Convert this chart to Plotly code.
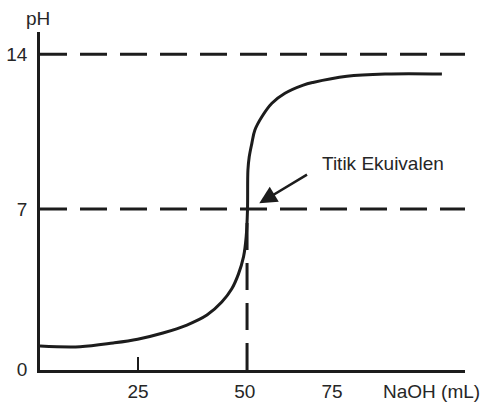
import plotly.graph_objects as go

# Titration curve
naoh_ml = [2.5, 11.7, 19.3, 24.9, 30.7, 36.2, 40.8, 44.2, 46.5, 48.0, 49.2, 49.8,
           50.1, 50.2, 50.5, 51.1, 51.8, 53.4, 55.7, 58.7, 62.9, 65.1, 72.9, 82.0, 94.7]
ph = [0.81, 0.78, 0.95, 1.12, 1.40, 1.76, 2.21, 2.80, 3.40, 4.05, 4.85, 5.75,
      6.96, 8.76, 9.36, 9.97, 10.57, 11.17, 11.78, 12.23, 12.6, 12.72, 13.0, 13.1, 13.1]

x_tick_text = ["25", "50", "75"]
y_tick_text = ["0", "7", "14"]
equivalence_volume = 50
equivalence_ph = 7
max_ph = 14
annotation_text = "Titik Ekuivalen"

X_RANGE = [2.5, 100]
Y_RANGE = [-0.27, 15.0]
INK = "#1c1c1c"
FONT = dict(family="Liberation Sans, Arial, sans-serif", size=19, color="#262626")
DASH = "27px,13px"

fig = go.Figure()

# horizontal dashed lines at pH 14 and pH 7
for level in (max_ph, equivalence_ph):
    fig.add_trace(go.Scatter(x=[X_RANGE[0], X_RANGE[1]], y=[level, level], mode="lines",
                             line=dict(color=INK, width=3, dash=DASH),
                             hoverinfo="skip", showlegend=False))
# vertical dashed line at equivalence volume (drawn from the axis upward)
fig.add_trace(go.Scatter(x=[equivalence_volume, equivalence_volume], y=[Y_RANGE[0], equivalence_ph],
                         mode="lines", line=dict(color=INK, width=3, dash=DASH),
                         hoverinfo="skip", showlegend=False))

# titration curve
fig.add_trace(go.Scatter(x=naoh_ml, y=ph, mode="lines",
                         line=dict(color=INK, width=3, shape="spline", smoothing=1),
                         showlegend=False))

fig.update_layout(
    width=483, height=404,
    margin=dict(l=40, r=18, t=32, b=34),
    paper_bgcolor="white", plot_bgcolor="white",
    font=FONT,
    xaxis=dict(range=X_RANGE, showgrid=False, zeroline=False, automargin=False,
               showline=True, linecolor=INK, linewidth=2.5,
               tickvals=[25, 49.5, 69.5], ticktext=x_tick_text, ticks="",
               ticklabelstandoff=2,
               minor=dict(tick0=25, dtick=100, ticks="inside", ticklen=13,
                          tickwidth=2, tickcolor=INK, showgrid=False)),
    yaxis=dict(range=Y_RANGE, showgrid=False, zeroline=False, automargin=False,
               showline=True, linecolor=INK, linewidth=2.5,
               tickvals=[Y_RANGE[0] + 0.05, equivalence_ph, max_ph], ticktext=y_tick_text,
               ticks="", ticklabelstandoff=6),
    annotations=[
        dict(text="pH", xref="paper", yref="paper", x=-0.037, y=1.041,
             xanchor="left", yanchor="middle", showarrow=False, font=FONT),
        dict(text="NaOH (mL)", xref="paper", yref="paper", x=1.041, y=0,
             yshift=-21, xanchor="right", yanchor="middle", showarrow=False, font=FONT),
        dict(text=annotation_text, xref="x", yref="y", x=66.8, y=9.08,
             xanchor="left", yanchor="middle", showarrow=False, font=FONT),
        dict(text="", xref="x", yref="y", x=52.8, y=7.26,
             axref="x", ayref="y", ax=64.1, ay=8.6,
             showarrow=True, arrowhead=2, arrowsize=1.4, arrowwidth=2.5,
             arrowcolor=INK, standoff=0),
    ],
)

fig.write_html(
    "out.html",
    config={"displayModeBar": False},
    post_script="document.body.style.margin='0';document.body.style.padding='0';"
                "document.body.style.overflow='hidden';",
)
